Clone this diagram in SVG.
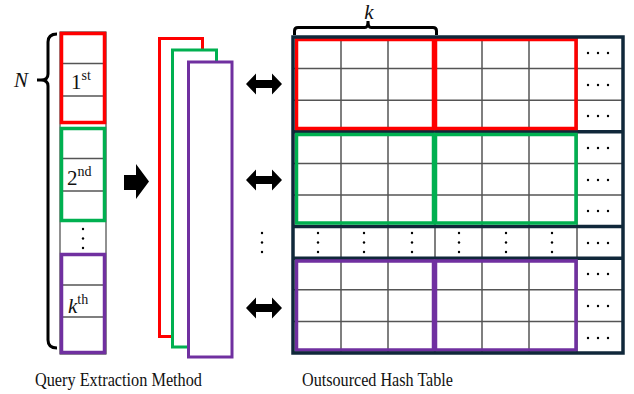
<svg xmlns="http://www.w3.org/2000/svg" width="634" height="394" viewBox="0 0 634 394">
<style>
.t{font-family:"Liberation Serif","Times New Roman",serif;fill:#111}
.grid{stroke:#555;stroke-width:1.5;fill:none}
.thin{stroke:#222;stroke-width:1;fill:none}
.red{stroke:#ff0000;stroke-width:3.5;fill:none}
.grn{stroke:#00b050;stroke-width:3.5;fill:none}
.pur{stroke:#7030a0;stroke-width:3.5;fill:none}
.sep{stroke:#10283a;stroke-width:3.5}
.brace{stroke:#000;stroke-width:3;fill:none}
.dot{fill:#000}
</style>
<rect width="634" height="394" fill="#fff"/>

<g id="query-column">
  <rect x="60" y="32" width="46" height="322" fill="#fff" class="thin"/>
  <line x1="62" y1="63.5" x2="104" y2="63.5" class="grid"/>
  <line x1="62" y1="96" x2="104" y2="96" class="grid"/>
  <line x1="62" y1="158.5" x2="104" y2="158.5" class="grid"/>
  <line x1="62" y1="191" x2="104" y2="191" class="grid"/>
  <line x1="62" y1="285" x2="104" y2="285" class="grid"/>
  <line x1="62" y1="317" x2="104" y2="317" class="grid"/>
  <rect x="61.5" y="33.5" width="43" height="89" class="red" stroke-width="3"/>
  <rect x="61.5" y="128.5" width="43" height="92" class="grn" stroke-width="3"/>
  <rect x="61.5" y="254.5" width="43" height="98" class="pur" stroke-width="3"/>
  <circle cx="83" cy="229" r="1.2" class="dot"/>
  <circle cx="83" cy="238.5" r="1.2" class="dot"/>
  <circle cx="83" cy="248" r="1.2" class="dot"/>
  <text class="t" x="71" y="89" font-size="21">1<tspan font-size="14" dy="-9">st</tspan></text>
  <text class="t" x="67" y="185" font-size="21">2<tspan font-size="14" dy="-9">nd</tspan></text>
  <text class="t" x="68" y="313" font-size="21" font-style="italic">k<tspan font-size="14" dy="-9" font-style="normal">th</tspan></text>
</g>

<g id="brace-N">
  <path class="brace" d="M57,34 Q48,34 48,42 L48,74 Q48,80 41,80 L37,80 M41,80 Q48,80 48,86 L48,340 Q48,348 57,348"/>
  <text class="t" x="14" y="87" font-size="21" font-style="italic">N</text>
</g>

<g id="arrow-right">
  <path d="M124,175 L136,175 L136,164 L149,181.5 L136,199 L136,190 L124,190 Z" fill="#000"/>
</g>

<g id="extracted-stack">
  <rect x="159.5" y="38.5" width="43" height="298" fill="#fff" stroke="#ff0000" stroke-width="3"/>
  <rect x="172.5" y="50" width="44" height="297" fill="#fff" stroke="#00b050" stroke-width="3"/>
  <rect x="188.5" y="62" width="43.5" height="295" fill="#fff" stroke="#7030a0" stroke-width="3"/>
</g>

<g id="connectors">
  <path d="M246,84 L256,73.5 L256,80 L272,80 L272,73.5 L282,84 L272,94.5 L272,88 L256,88 L256,94.5 Z" fill="#000"/>
  <path d="M246,180 L256,169.5 L256,176 L272,176 L272,169.5 L282,180 L272,190.5 L272,184 L256,184 L256,190.5 Z" fill="#000"/>
  <path d="M246,308 L256,297.5 L256,304 L272,304 L272,297.5 L282,308 L272,318.5 L272,312 L256,312 L256,318.5 Z" fill="#000"/>
  <circle cx="262" cy="233" r="1.2" class="dot"/>
  <circle cx="262" cy="242.5" r="1.2" class="dot"/>
  <circle cx="262" cy="252" r="1.2" class="dot"/>
</g>

<g id="hash-table">
  <rect x="293" y="37" width="330" height="316" fill="#fff"/>
  <g class="grid">
    <line x1="293" y1="68.6" x2="623" y2="68.6"/>
    <line x1="293" y1="100.2" x2="623" y2="100.2"/>
    <line x1="293" y1="163.4" x2="623" y2="163.4"/>
    <line x1="293" y1="195" x2="623" y2="195"/>
    <line x1="293" y1="289.8" x2="623" y2="289.8"/>
    <line x1="293" y1="321.4" x2="623" y2="321.4"/>
    <line x1="341" y1="37" x2="341" y2="353"/>
    <line x1="388" y1="37" x2="388" y2="353"/>
    <line x1="435" y1="37" x2="435" y2="353"/>
    <line x1="482" y1="37" x2="482" y2="353"/>
    <line x1="529" y1="37" x2="529" y2="353"/>
    <line x1="577" y1="37" x2="577" y2="353"/>
  </g>
  <line x1="293" y1="131.8" x2="623" y2="131.8" class="sep"/>
  <line x1="293" y1="226.6" x2="623" y2="226.6" class="sep"/>
  <line x1="293" y1="258.2" x2="623" y2="258.2" class="sep"/>
  <rect x="296.5" y="39.5" width="137" height="89" class="red"/>
  <rect x="435.5" y="39.5" width="140.5" height="89" class="red"/>
  <rect x="296.5" y="134.5" width="137" height="88.5" class="grn"/>
  <rect x="435.5" y="134.5" width="140.5" height="88.5" class="grn"/>
  <rect x="296.5" y="261" width="137" height="89" class="pur"/>
  <rect x="435.5" y="261" width="140.5" height="89" class="pur"/>
  <rect x="293" y="37" width="330" height="316" fill="none" stroke="#10283a" stroke-width="3.5"/>
  <g class="dot">
    <circle cx="588" cy="53" r="1.2"/><circle cx="598" cy="53" r="1.2"/><circle cx="608" cy="53" r="1.2"/>
    <circle cx="588" cy="85" r="1.2"/><circle cx="598" cy="85" r="1.2"/><circle cx="608" cy="85" r="1.2"/>
    <circle cx="588" cy="116" r="1.2"/><circle cx="598" cy="116" r="1.2"/><circle cx="608" cy="116" r="1.2"/>
    <circle cx="588" cy="148" r="1.2"/><circle cx="598" cy="148" r="1.2"/><circle cx="608" cy="148" r="1.2"/>
    <circle cx="588" cy="180" r="1.2"/><circle cx="598" cy="180" r="1.2"/><circle cx="608" cy="180" r="1.2"/>
    <circle cx="588" cy="211" r="1.2"/><circle cx="598" cy="211" r="1.2"/><circle cx="608" cy="211" r="1.2"/>
    <circle cx="588" cy="243" r="1.2"/><circle cx="598" cy="243" r="1.2"/><circle cx="608" cy="243" r="1.2"/>
    <circle cx="588" cy="274" r="1.2"/><circle cx="598" cy="274" r="1.2"/><circle cx="608" cy="274" r="1.2"/>
    <circle cx="588" cy="306" r="1.2"/><circle cx="598" cy="306" r="1.2"/><circle cx="608" cy="306" r="1.2"/>
    <circle cx="588" cy="338" r="1.2"/><circle cx="598" cy="338" r="1.2"/><circle cx="608" cy="338" r="1.2"/>
    <circle cx="318" cy="233" r="1.2"/><circle cx="318" cy="242.5" r="1.2"/><circle cx="318" cy="252" r="1.2"/>
    <circle cx="364" cy="233" r="1.2"/><circle cx="364" cy="242.5" r="1.2"/><circle cx="364" cy="252" r="1.2"/>
    <circle cx="412" cy="233" r="1.2"/><circle cx="412" cy="242.5" r="1.2"/><circle cx="412" cy="252" r="1.2"/>
    <circle cx="459" cy="233" r="1.2"/><circle cx="459" cy="242.5" r="1.2"/><circle cx="459" cy="252" r="1.2"/>
    <circle cx="506" cy="233" r="1.2"/><circle cx="506" cy="242.5" r="1.2"/><circle cx="506" cy="252" r="1.2"/>
    <circle cx="552" cy="233" r="1.2"/><circle cx="552" cy="242.5" r="1.2"/><circle cx="552" cy="252" r="1.2"/>
  </g>
</g>

<g id="brace-k">
  <path class="brace" d="M294.5,35 L294.5,31 Q294.5,27.5 298,27.5 L365,27.5 Q368,27.5 368,21 Q368,27.5 371,27.5 L433,27.5 Q436.5,27.5 436.5,31 L436.5,35"/>
  <text class="t" x="369" y="19" font-size="21" font-style="italic" text-anchor="middle">k</text>
</g>

<g id="labels">
  <text class="t" x="35" y="386" font-size="19" textLength="167" lengthAdjust="spacingAndGlyphs">Query Extraction Method</text>
  <text class="t" x="302" y="386" font-size="19" textLength="151" lengthAdjust="spacingAndGlyphs">Outsourced Hash Table</text>
</g>
</svg>
